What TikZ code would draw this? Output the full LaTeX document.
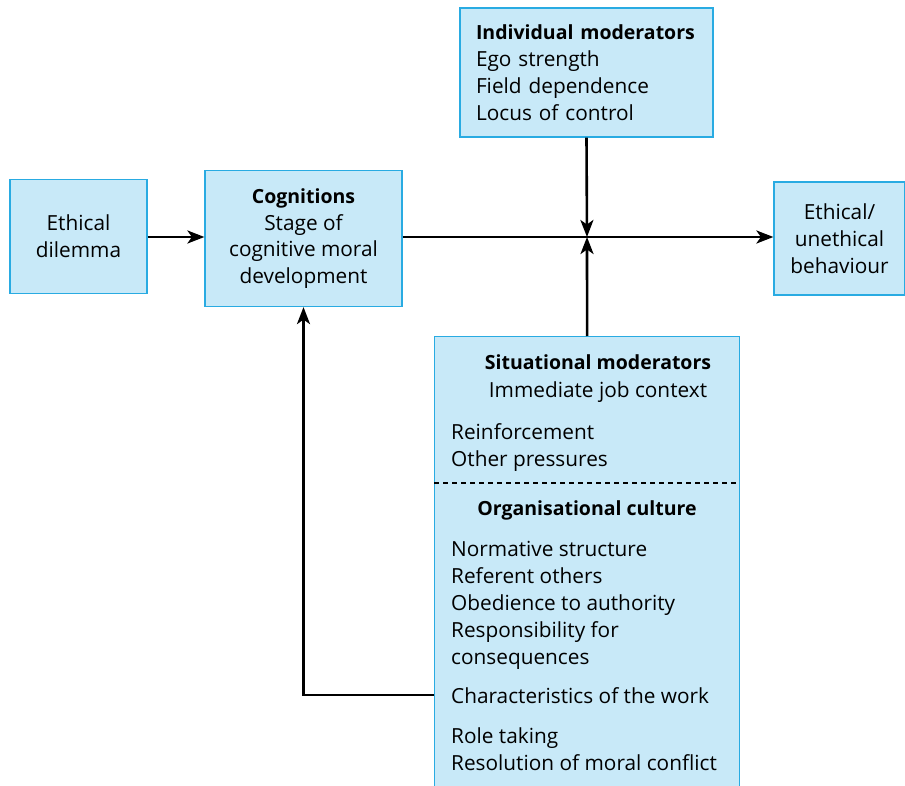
\documentclass[tikz,border=0pt]{standalone}
\usepackage{fontspec}
\setmainfont{Open Sans}
\usepackage{tikz}
\usetikzlibrary{arrows.meta,positioning}
\definecolor{boxfill}{RGB}{200,233,248}
\definecolor{boxline}{RGB}{41,171,226}
\newcommand{\hdfont}{\fontsize{19.5}{26.8}\selectfont\bfseries}
\tikzset{
  ethic/.style={x=1pt, y=-1pt,
                every node/.style={font=\fontsize{20.8}{26.8}\selectfont}},
  blk/.style={draw=boxline, fill=boxfill, line width=1.2pt, inner sep=0pt, align=center},
  lst/.style={inner sep=0pt, align=left, anchor=base west},
  hd/.style={inner sep=0pt, anchor=base, font=\hdfont},
  flow/.style={-{Stealth[length=17pt,width=13pt,inset=4.5pt]}, line width=2.6pt},
  cut/.style={dash pattern=on 5pt off 4pt, line width=1.2pt}
}

\begin{document}
\begin{tikzpicture}[ethic]
\useasboundingbox (0,0) rectangle (905,786);
\node[blk, minimum width=137pt, minimum height=114pt] (dil) at (78.5,236.5) {Ethical\\dilemma};
\node[blk, minimum width=197pt, minimum height=136pt] (cog) at (303.5,238.5) {{\hdfont Cognitions}\\Stage of\\cognitive moral\\development};
\node[blk, minimum width=253pt, minimum height=129pt, text width=221pt, align=left] (ind) at (586.5,72.5)
  {{\hdfont Individual moderators}\\Ego strength\\Field dependence\\Locus of control};
\node[blk, minimum width=131pt, minimum height=113pt] (beh) at (839.5,238.5) {Ethical/\\unethical\\behaviour};
\node[blk, minimum width=305pt, minimum height=470pt, anchor=north west] (sit) at (434,336) {};
% texts inside the situational box
\node[hd] (sith) at (598,370) {Situational moderators};
\node[inner sep=0pt, anchor=base] (job) at (598,397) {Immediate job context};
\node[lst] (rein) at (451,466) {Reinforcement\\Other pressures};
\node[hd] (orgh) at (587,515) {Organisational culture};
\node[lst] (norm) at (451,664) {Normative structure\\Referent others\\Obedience to authority\\Responsibility for\\consequences};
\node[lst] (work) at (451,703) {Characteristics of the work};
\node[lst] (role) at (451,770) {Role taking\\Resolution of moral conflict};
\coordinate (cutL) at (434,483);
\coordinate (cutR) at (739,483);
\draw[cut] (cutL) -- (cutR);
% connectors
\coordinate (jn) at (587,237);
\coordinate (fb) at (434,695);
\draw[flow] (dil.east |- jn) -- (cog.west |- jn);
\draw[flow] (cog.east |- jn) -- (beh.west |- jn);
\draw[flow] (ind.south) -- (jn);
\draw[flow] (sit.north) -- (jn);
\draw[flow] (fb) -| (cog.south);
\end{tikzpicture}
\end{document}
